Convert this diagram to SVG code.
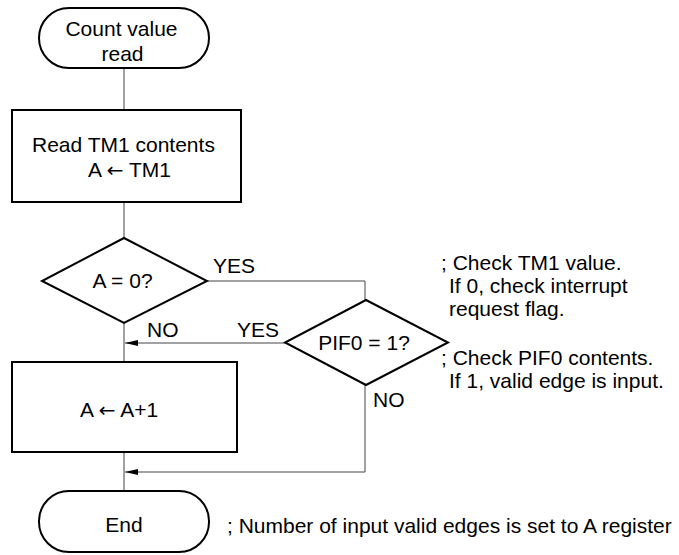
<svg xmlns="http://www.w3.org/2000/svg" width="679" height="555" viewBox="0 0 679 555">
<style>
.shape{fill:#fff;stroke:#000;stroke-width:2}
.conn{fill:none;stroke:#444;stroke-width:1}
text{font-family:"Liberation Sans",Arial,sans-serif;font-size:21px;fill:#000}
.c{text-anchor:middle}
.ar{font-family:"DejaVu Sans",sans-serif;font-size:20px}
</style>
<defs>
<marker id="ah" markerWidth="14" markerHeight="8" refX="13" refY="4" orient="auto" markerUnits="userSpaceOnUse">
<path d="M0,1 L13,4 L0,7 Z" fill="#000"/>
</marker>
</defs>
<rect width="679" height="555" fill="#fff"/>
<g id="connectors">
<line class="conn" x1="124" y1="68" x2="124" y2="110"/>
<line class="conn" x1="124" y1="202" x2="124" y2="238"/>
<line class="conn" x1="124" y1="323" x2="124" y2="362"/>
<line class="conn" x1="124" y1="452" x2="124" y2="491"/>
<polyline class="conn" points="207,281 365,281 365,300"/>
<line class="conn" x1="285" y1="343" x2="125" y2="343" marker-end="url(#ah)"/>
<polyline class="conn" points="365,385 365,472 125,472" marker-end="url(#ah)"/>
<text x="213" y="273">YES</text>
<text x="237" y="337">YES</text>
<text x="147" y="337">NO</text>
<text x="373" y="407">NO</text>
</g>
<g id="start">
<rect class="shape" x="39" y="8" width="170" height="60" rx="30" ry="30"/>
<text class="c" x="121.5" y="36">Count value</text>
<text class="c" x="122.5" y="61">read</text>
</g>
<g id="read">
<rect class="shape" x="12" y="110" width="229" height="92"/>
<text x="32" y="152">Read TM1 contents</text>
<text x="88" y="177">A <tspan class="ar">←</tspan> TM1</text>
</g>
<g id="check0">
<polygon class="shape" points="124,238 207,281 124,323 42,281"/>
<text class="c" x="122.5" y="288">A = 0?</text>
</g>
<g id="checkpif">
<polygon class="shape" points="366,300 448,342.5 366,385 285,342.5"/>
<text class="c" x="364" y="350">PIF0 = 1?</text>
</g>
<g id="inc">
<rect class="shape" x="12" y="362" width="225" height="90"/>
<text x="80" y="417">A <tspan class="ar">←</tspan> A+1</text>
</g>
<g id="end">
<rect class="shape" x="39" y="491" width="170" height="61" rx="30" ry="30"/>
<text class="c" x="124" y="532">End</text>
</g>
<g id="notes">
<text x="441" y="270">; Check TM1 value.</text>
<text x="449" y="293">If 0, check interrupt</text>
<text x="449" y="316">request flag.</text>
<text x="441" y="365">; Check PIF0 contents.</text>
<text x="449" y="388">If 1, valid edge is input.</text>
<text x="227" y="533">; Number of input valid edges is set to A register</text>
</g>
</svg>
